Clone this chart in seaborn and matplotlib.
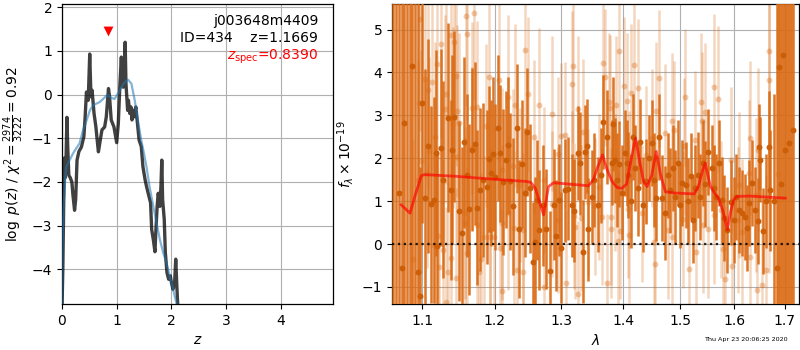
import numpy as np
import pandas as pd
import matplotlib
matplotlib.use("Agg")
import matplotlib.pyplot as plt
import matplotlib.ticker as mticker
import seaborn as sns

# ---------------- redshift probability ----------------
z_pz = [0.000, 0.015, 0.030, 0.045, 0.060, 0.075, 0.090, 0.105, 0.125, 0.150, 0.180,
        0.200, 0.230, 0.250, 0.275, 0.310, 0.355, 0.400, 0.420, 0.447, 0.480, 0.507,
        0.530, 0.550, 0.586, 0.620, 0.650, 0.666, 0.690, 0.730, 0.780, 0.810, 0.850,
        0.870, 0.900, 0.950, 1.000, 1.030, 1.057, 1.085, 1.100, 1.120, 1.140, 1.155,
        1.170, 1.200, 1.215, 1.240, 1.260, 1.280, 1.310, 1.320, 1.350, 1.380, 1.410,
        1.450, 1.480, 1.520, 1.545, 1.590, 1.620, 1.640, 1.670, 1.700, 1.715, 1.740,
        1.760, 1.790, 1.810, 1.825, 1.840, 1.870, 1.890, 1.920, 1.950, 1.980, 2.000,
        2.030, 2.060, 2.080, 2.100, 2.120]
logp_pz = [-4.90, -4.00, -2.60, -1.45, -1.90, -1.40, -0.52, -1.20, -1.85, -1.90, -2.00,
           -2.30, -2.65, -2.40, -1.50, -1.30, -1.20, -0.96, -0.58, 0.06, -0.13, 0.93,
           -0.05, 0.10, -0.43, -0.74, -1.12, -1.31, -1.12, -0.81, -0.74, -0.51, 0.14,
           -0.05, -0.58, -0.74, -1.10, -0.66, 0.17, 0.86, 0.40, 0.17, 0.70, 1.20,
           0.25, -0.36, -0.13, -0.43, -0.28, -0.58, -0.36, -0.51, -0.28, -0.66, -1.04,
           -1.19, -1.65, -1.95, -2.10, -2.33, -2.48, -3.09, -3.32, -3.60, -3.17, -2.56,
           -2.26, -2.56, -2.10, -1.50, -2.40, -2.86, -3.62, -4.08, -4.23, -4.15, -4.30,
           -4.46, -4.30, -3.77, -4.38, -4.90]

z_smooth = [0.000, 0.007, 0.030, 0.060, 0.080, 0.140, 0.200, 0.260, 0.320, 0.385, 0.450,
            0.510, 0.570, 0.690, 0.810, 0.840, 0.900, 0.960, 1.000, 1.060, 1.120, 1.180,
            1.210, 1.270, 1.330, 1.390, 1.450, 1.500, 1.545, 1.600, 1.670, 1.730, 1.790,
            1.850, 1.910, 1.970, 2.030, 2.090, 2.130]
logp_smooth = [-4.90, -3.50, -2.50, -1.90, -1.65, -1.50, -1.35, -1.23, -1.12, -0.81, -0.59,
               -0.36, -0.24, -0.17, -0.03, -0.01, -0.07, -0.10, -0.02, 0.10, 0.24, 0.32,
               0.34, 0.25, -0.13, -0.60, -1.05, -1.35, -1.65, -2.10, -2.56, -2.94, -3.32,
               -3.62, -3.85, -4.15, -4.46, -4.76, -5.00]

z_spec = 0.8390
z_best = 1.1669
obj_name = "j003648m4409"
obj_id = 434
chi2_num, chi2_den = 2974, 3222

# ---------------- 1D spectrum ----------------
wave_dark = [1.0625, 1.066, 1.0695, 1.073, 1.0765, 1.080, 1.0835, 1.087, 1.0905, 1.094,
             1.097, 1.100, 1.1035, 1.108, 1.111, 1.116, 1.1185, 1.120, 1.1245, 1.127,
             1.134, 1.138, 1.140, 1.143, 1.150, 1.153, 1.157, 1.160, 1.164, 1.168,
             1.172, 1.175, 1.179, 1.183, 1.1885, 1.192, 1.195, 1.197, 1.201, 1.204,
             1.208, 1.212, 1.216, 1.219, 1.222, 1.227, 1.232, 1.236, 1.240, 1.244,
             1.248, 1.252, 1.256, 1.259, 1.262, 1.266, 1.271, 1.276, 1.282, 1.288,
             1.292, 1.296, 1.300, 1.305, 1.310, 1.316, 1.320, 1.326, 1.330, 1.335,
             1.337, 1.340, 1.343, 1.348, 1.352, 1.359, 1.363, 1.367, 1.373, 1.381,
             1.384, 1.386, 1.390, 1.394, 1.398, 1.403, 1.407, 1.409, 1.413, 1.417,
             1.421, 1.425, 1.429, 1.434, 1.439, 1.444, 1.449, 1.453, 1.456, 1.461,
             1.467, 1.473, 1.477, 1.481, 1.486, 1.490, 1.495, 1.499, 1.503, 1.510,
             1.514, 1.519, 1.523, 1.527, 1.532, 1.536, 1.541, 1.545, 1.550, 1.557,
             1.562, 1.566, 1.571, 1.576, 1.581, 1.587, 1.593, 1.599, 1.604, 1.609,
             1.615, 1.620, 1.625, 1.628, 1.635, 1.640, 1.646, 1.649, 1.651, 1.657,
             1.662, 1.668, 1.671, 1.678, 1.6845, 1.689, 1.693, 1.697, 1.701, 1.705,
             1.709, 1.713, 1.717]
flux_dark = [-2.50, 6.20, 1.20, -0.55, 2.82, -2.20, 6.50, 4.15, 5.90, -0.65,
             -1.20, 3.30, 1.08, 2.29, 0.93, 1.03, 2.12, -0.05, 2.25, 1.50,
             2.95, 1.27, 2.20, 2.97, 0.78, 0.26, 2.37, 1.60, 0.81, 2.20,
             2.34, 0.85, 1.27, 1.50, 1.33, 1.98, 1.65, 2.10, 1.56, 2.70,
             2.12, 1.45, 1.97, 2.30, 1.46, 0.88, 2.70, 0.35, 1.87, 1.20,
             2.61, 1.30, -0.42, 0.06, 1.03, 0.33, 0.90, 0.35, -0.63, 0.92,
             0.20, 1.03, -0.08, 1.26, 1.29, 0.90, 0.78, 2.12, 1.88, -0.18,
             2.15, 2.28, 0.35, 1.10, 1.50, 0.92, 1.60, 2.85, 2.50, 1.90,
             2.80, 1.95, 1.50, 1.87, 1.20, 2.12, 1.89, 1.61, 1.00, 2.50,
             1.77, 1.30, 2.39, 0.92, 1.46, 2.00, 2.35, 1.50, 1.08, 2.50,
             1.08, 0.72, 1.60, 1.25, 1.77, 1.10, 1.89, 0.90, 1.42, 1.38,
             1.00, 1.58, 0.57, 1.31, 1.61, 1.10, 1.89, 1.40, 2.15, 1.77,
             1.30, 1.10, 1.89, 1.03, 0.60, 0.33, 0.97, 0.57, 1.10, 0.80,
             0.72, 0.64, 0.38, 0.95, 1.43, 0.80, 0.53, 2.27, 1.97, 0.30,
             1.00, 2.27, 1.25, 1.00, -0.55, 4.13, 1.40, 4.40, 2.20, 6.00,
             2.35, -2.00, 2.67]
err_dark = [9.0, 9.0, 9.0, 9.0, 9.0, 9.0, 9.0, 8.0, 8.0, 7.0,
            3.0, 2.8, 3.0, 2.5, 2.3, 2.4, 2.4, 2.2, 2.3, 2.3,
            2.2, 2.1, 2.2, 2.0, 2.1, 2.0, 2.0, 1.9, 2.0, 1.9,
            1.9, 1.8, 1.9, 1.8, 1.8, 1.7, 1.7, 1.8, 1.7, 1.7,
            1.6, 1.7, 1.6, 1.6, 1.6, 1.6, 1.5, 1.6, 1.5, 1.5,
            1.5, 1.5, 1.4, 1.5, 1.4, 1.4, 1.4, 1.4, 1.4, 1.3,
            1.3, 1.3, 1.3, 1.2, 1.2, 1.2, 1.2, 1.1, 1.2, 1.2,
            1.1, 1.1, 1.2, 1.1, 1.1, 1.1, 1.1, 1.1, 1.1, 1.0,
            1.1, 1.0, 1.1, 1.0, 1.1, 1.0, 1.0, 1.0, 1.1, 1.0,
            1.0, 1.1, 1.0, 1.1, 1.0, 1.0, 1.0, 1.1, 1.0, 1.0,
            1.0, 1.1, 1.0, 1.0, 1.0, 1.1, 1.0, 1.0, 1.0, 1.0,
            1.0, 1.0, 1.0, 1.0, 1.0, 1.0, 1.0, 1.0, 1.0, 1.0,
            1.0, 1.0, 1.0, 1.0, 1.0, 1.0, 1.0, 1.0, 1.0, 1.0,
            1.0, 1.0, 1.0, 1.0, 1.0, 1.0, 1.0, 1.0, 1.0, 1.0,
            1.1, 1.3, 1.4, 2.5, 8.0, 8.0, 8.0, 8.0, 8.0, 8.0,
            8.0, 8.0, 8.0]

wave_light = [1.088, 1.094, 1.095, 1.097, 1.098, 1.103, 1.106, 1.108, 1.109, 1.113,
              1.116, 1.117, 1.120, 1.121, 1.122, 1.125, 1.127, 1.130, 1.132, 1.1315,
              1.134, 1.138, 1.139, 1.141, 1.143, 1.145, 1.146, 1.1465, 1.147, 1.149,
              1.158, 1.1585, 1.159, 1.160, 1.161, 1.167, 1.1675, 1.171, 1.174, 1.175,
              1.177, 1.180, 1.185, 1.188, 1.192, 1.1925, 1.193, 1.199, 1.206, 1.207,
              1.210, 1.2105, 1.211, 1.219, 1.2195, 1.226, 1.228, 1.229, 1.232, 1.237,
              1.241, 1.242, 1.245, 1.249, 1.258, 1.265, 1.273, 1.2735, 1.285, 1.2855,
              1.294, 1.295, 1.300, 1.306, 1.308, 1.316, 1.317, 1.318, 1.320, 1.321,
              1.326, 1.3265, 1.331, 1.334, 1.342, 1.354, 1.360, 1.365, 1.367, 1.370,
              1.373, 1.376, 1.379, 1.3795, 1.380, 1.387, 1.388, 1.391, 1.394, 1.395,
              1.402, 1.407, 1.409, 1.4095, 1.410, 1.413, 1.419, 1.426, 1.433, 1.439,
              1.449, 1.453, 1.455, 1.457, 1.461, 1.473, 1.477, 1.485, 1.4855, 1.488,
              1.504, 1.506, 1.509, 1.515, 1.527, 1.5275, 1.537, 1.540, 1.542, 1.545,
              1.551, 1.561, 1.562, 1.570, 1.575, 1.579, 1.583, 1.594, 1.596, 1.608,
              1.610, 1.615, 1.628, 1.630, 1.631, 1.643, 1.645, 1.647, 1.655, 1.663,
              1.668, 1.669, 1.687]
flux_light = [-0.34, 1.50, 3.29, 5.24, 1.93, 3.85, 1.65, 3.60, 2.16, 3.78,
              -0.02, 2.50, 4.20, 0.18, -0.54, 4.67, -0.13, 3.15, 3.50, -1.34,
              -0.65, -0.33, 4.88, 2.95, 4.72, 3.92, -0.79, 2.04, 3.10, 2.83,
              0.49, 0.72, 5.32, -0.21, 4.90, 3.17, 2.23, 5.38, 0.44, 3.19,
              -0.65, -0.35, 0.16, 2.76, 3.89, 0.33, 0.16, 0.16, 3.82, -0.08,
              -1.09, 0.50, 1.73, 3.44, 0.72, 1.81, 0.37, 3.24, -0.60, 1.38,
              -0.64, 0.33, 4.53, 3.50, 2.49, 3.24, -0.99, 1.50, 3.04, 0.93,
              0.57, 2.10, 2.52, 2.54, -0.91, 1.40, 3.73, 4.15, 0.66, 0.41,
              3.15, -1.16, 0.60, 2.62, 0.98, 0.88, 1.34, 0.64, 4.23, 3.89,
              -0.90, 3.31, 3.17, 0.64, 0.35, 1.44, 3.24, 0.08, 4.50, 0.31,
              3.69, 3.33, 0.81, 0.22, 1.50, 3.52, 4.18, 3.64, 0.72, 2.08,
              2.47, 0.05, -0.46, 3.10, 3.86, 2.59, 0.33, 2.86, 0.16, 2.66,
              0.58, 2.28, 3.42, -0.58, 2.43, -0.19, 3.31, 2.87, 0.45, 3.08,
              0.35, 3.66, 0.68, 3.39, 0.80, -0.12, -0.82, 1.97, -0.52, 0.57,
              1.38, 0.29, 1.65, -0.29, 2.47, 1.15, -1.07, 2.20, -0.96, -0.60,
              3.83, 4.50, 1.64]
err_light = [2.8, 2.8, 2.7, 2.6, 2.6, 2.3, 2.2, 2.3, 2.2, 2.2,
             2.1, 2.2, 2.2, 2.1, 2.2, 2.2, 2.1, 2.2, 2.1, 2.2,
             2.1, 2.0, 2.2, 2.1, 2.0, 2.1, 2.1, 2.0, 2.0, 2.1,
             2.0, 2.0, 2.1, 2.0, 2.0, 2.0, 1.9, 2.0, 1.9, 2.0,
             1.9, 2.0, 1.9, 1.9, 2.0, 1.9, 1.9, 1.9, 1.9, 1.9,
             1.9, 1.8, 1.9, 1.9, 1.8, 1.8, 1.8, 1.9, 1.8, 1.8,
             1.8, 1.8, 1.9, 1.8, 1.8, 1.8, 1.8, 1.7, 1.8, 1.7,
             1.7, 1.8, 1.7, 1.7, 1.7, 1.7, 1.7, 1.8, 1.7, 1.7,
             1.7, 1.7, 1.7, 1.7, 1.7, 1.6, 1.7, 1.6, 1.7, 1.6,
             1.6, 1.6, 1.7, 1.6, 1.6, 1.6, 1.6, 1.6, 1.7, 1.6,
             1.6, 1.6, 1.6, 1.6, 1.6, 1.6, 1.7, 1.6, 1.6, 1.6,
             1.6, 1.6, 1.6, 1.6, 1.6, 1.6, 1.6, 1.6, 1.6, 1.6,
             1.6, 1.6, 1.6, 1.6, 1.6, 1.6, 1.6, 1.6, 1.6, 1.6,
             1.6, 1.7, 1.6, 1.7, 1.6, 1.7, 1.7, 1.7, 1.7, 1.7,
             1.7, 1.7, 1.7, 1.8, 1.8, 1.8, 1.9, 1.9, 2.0, 2.2,
             4.5, 4.5, 4.5]

wave_model = [1.072, 1.078, 1.0838, 1.090, 1.0985, 1.1025, 1.145, 1.1925, 1.246, 1.253,
              1.260, 1.266, 1.2725, 1.280, 1.288, 1.343, 1.351, 1.358, 1.366, 1.373,
              1.382, 1.390, 1.398, 1.406, 1.414, 1.421, 1.428, 1.435, 1.441, 1.449,
              1.457, 1.464, 1.473, 1.490, 1.525, 1.533, 1.540, 1.545, 1.550, 1.555,
              1.562, 1.570, 1.579, 1.587, 1.593, 1.599, 1.605, 1.630, 1.702]
flux_model = [0.92, 0.82, 0.72, 1.10, 1.59, 1.62, 1.58, 1.52, 1.46, 1.44,
              1.30, 1.00, 0.68, 1.34, 1.43, 1.36, 1.50, 1.80, 2.08, 1.75,
              1.45, 1.32, 1.30, 1.40, 2.00, 2.47, 1.95, 1.45, 1.34, 1.60,
              2.16, 1.65, 1.22, 1.19, 1.17, 1.35, 1.70, 1.89, 1.62, 1.34,
              1.20, 1.07, 0.75, 0.33, 0.75, 1.03, 1.11, 1.12, 1.07]

timestamp = "Thu Apr 23 20:06:25 2020"

# ---------------- style ----------------
sns.set_style("ticks")
plt.rcParams.update({
    "font.family": ["DejaVu Sans"],
    "font.size": 10,
    "axes.labelsize": 10,
    "xtick.labelsize": 10,
    "ytick.labelsize": 10,
    "axes.edgecolor": "black",
    "axes.linewidth": 0.9,
    "xtick.color": "black",
    "ytick.color": "black",
    "text.color": "black",
    "axes.labelcolor": "black",
    "xtick.major.size": 3.5,
    "ytick.major.size": 3.5,
    "xtick.major.width": 0.8,
    "ytick.major.width": 0.8,
    "grid.color": "#b0b0b0",
    "grid.linewidth": 0.8,
    "mathtext.fontset": "dejavusans",
})

fig = plt.figure(figsize=(8, 3.5), dpi=100)
ax1 = fig.add_axes([0.0775, 0.131, 0.339, 0.858])
ax2 = fig.add_axes([0.490, 0.131, 0.509, 0.858])

# ---- left: log p(z) ----
pz_df = pd.DataFrame({"z": z_pz, "logp": logp_pz})
sm_df = pd.DataFrame({"z": z_smooth, "logp": logp_smooth})
sns.lineplot(data=pz_df, x="z", y="logp", ax=ax1, color="black", alpha=0.75,
             linewidth=2.4, sort=False, estimator=None, zorder=3)
sns.lineplot(data=sm_df, x="z", y="logp", ax=ax1, color="tab:blue", alpha=0.55,
             linewidth=1.6, sort=False, estimator=None, zorder=4)
ax1.scatter([z_spec], [1.46], marker="v", s=50, color="red", zorder=5, linewidths=0)

ax1.set_xlim(0, 4.96)
ax1.set_ylim(-4.8, 2.08)
ax1.set_xticks([0, 1, 2, 3, 4])
ax1.set_yticks([-4, -3, -2, -1, 0, 1, 2])
ax1.grid(True)
ax1.set_axisbelow(True)
ax1.set_xlabel(r"$z$")
ax1.set_ylabel(r"$\log\ p(z)$" + " / " +
               r"$\chi^2=\frac{%d}{%d}=%.2f$" % (chi2_num, chi2_den, chi2_num / chi2_den))
ax1.text(0.945, 0.965, "%s\nID=%d    z=%.4f" % (obj_name, obj_id, z_best),
         transform=ax1.transAxes, ha="right", va="top", fontsize=10)
ax1.text(0.945, 0.855, r"$z_\mathrm{spec}$=%.4f" % z_spec, color="red",
         transform=ax1.transAxes, ha="right", va="top", fontsize=10)

# ---- right: spectrum ----
orange = (0.855, 0.415, 0.075)
dot_orange = (0.80, 0.37, 0.03)
ax2.vlines(wave_light, np.array(flux_light) - np.array(err_light),
           np.array(flux_light) + np.array(err_light),
           color=orange, alpha=0.28, linewidth=1.8, zorder=2)
sns.scatterplot(x=wave_light, y=flux_light, ax=ax2, color=orange, alpha=0.35,
                s=18, linewidth=0, zorder=2)
ax2.vlines(wave_dark, np.array(flux_dark) - np.array(err_dark),
           np.array(flux_dark) + np.array(err_dark),
           color=orange, alpha=0.92, linewidth=1.8, zorder=3)
sns.scatterplot(x=wave_dark, y=flux_dark, ax=ax2, color=dot_orange, alpha=1.0,
                s=18, linewidth=0, zorder=3)
model_df = pd.DataFrame({"wave": wave_model, "flux": flux_model})
sns.lineplot(data=model_df, x="wave", y="flux", ax=ax2, color="red", alpha=0.65,
             linewidth=2.0, sort=False, estimator=None, zorder=4)
ax2.axhline(0, color="black", linestyle=":", linewidth=1.6, alpha=0.85, zorder=5)

ax2.set_xscale("log")
ax2.set_xlim(1.0606, 1.730)
ax2.set_ylim(-1.4, 5.6)
ax2.xaxis.set_major_locator(mticker.FixedLocator([1.1, 1.2, 1.3, 1.4, 1.5, 1.6, 1.7]))
ax2.xaxis.set_major_formatter(mticker.FormatStrFormatter("%.1f"))
ax2.xaxis.set_minor_locator(mticker.NullLocator())
ax2.set_yticks([-1, 0, 1, 2, 3, 4, 5])
ax2.grid(True)
ax2.set_axisbelow(True)
ax2.set_xlabel(r"$\lambda$")
ax2.set_ylabel(r"$f_\lambda\times10^{-19}$")

fig.text(0.985, 0.022, timestamp, ha="right", va="bottom", fontsize=4.6)

fig.savefig("out.png", dpi=100)
